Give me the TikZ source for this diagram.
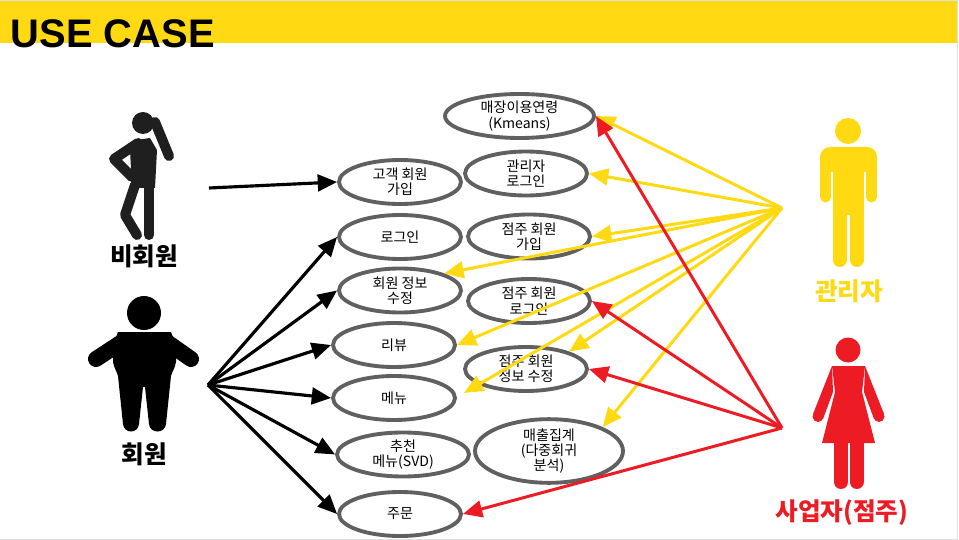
\documentclass[tikz,border=0pt]{standalone}
\usepackage{fontspec}
\setmainfont{Noto Sans CJK KR}
\newfontfamily\titlefont{Liberation Sans}
\usetikzlibrary{shapes.geometric,arrows.meta}
\definecolor{baryellow}{RGB}{255,217,17}
\definecolor{ownerred}{RGB}{237,28,36}
\definecolor{rimgray}{RGB}{96,96,96}
\tikzset{
  usecase/.style={draw=rimgray,line width=2.2pt,fill=white,ellipse,inner sep=0pt,
    minimum width=2.44cm,minimum height=.88cm,align=center,
    font=\fontsize{8}{8.7}\selectfont},
  actorname/.style={font=\fontsize{14}{16}\selectfont\bfseries},
  blackline/.style={draw=black,line width=1.8pt,-{Triangle[length=11pt,width=9.5pt]}},
  yellowline/.style={draw=baryellow,line width=1.7pt,-{Triangle[length=11pt,width=9.5pt]}},
  redline/.style={draw=ownerred,line width=1.7pt,-{Triangle[length=11pt,width=9.5pt]}},
}
\begin{document}
\begin{tikzpicture}[x=.02cm,y=-.02cm]
      \useasboundingbox (0,0) rectangle (959,540);
      % header
      \fill[gray!25] (0,0) rectangle (959,1);
      \fill[gray!25] (956.5,0) rectangle (958,540);
      \fill[gray!25] (0,538.5) rectangle (958,540);
      \fill[baryellow] (0,1) rectangle (957,43);
      \node[anchor=west,inner sep=0pt,font=\titlefont\fontsize{22.7}{26}\selectfont\bfseries] at (10.5,34) (title) {USE CASE};
      % guest
      \begin{scope}[fill=black!88,draw=black!88,line cap=round,line join=round]
        \fill (143,123) circle (11);
        \fill (137,140) -- (150,138) -- (157,150) -- (155,188) -- (132,188) -- (130,150) -- cycle;
        \draw[line width=.2cm] (155,122) -- (169,156);
        \draw[line width=.2cm] (138,143) -- (114,159) -- (132,177);
        \draw[line width=.2cm] (149,185) -- (149,235);
        \draw[line width=.2cm] (135,185) -- (125,215) -- (137,235);
      \end{scope}
      % member
      \fill (144,313) circle (17);
      \fill (118,332) -- (171,332) -- (176,345) -- (176,362) .. controls (175,368) and (172,372) .. (171,376)
        -- (166,424) .. controls (165,434) and (150,434) .. (149,424) -- (145,387) -- (143,387) -- (139,424)
        .. controls (138,434) and (124,434) .. (123,424) -- (118,376) .. controls (117,372) and (114,368) .. (113,362)
        -- (113,345) -- cycle;
      \draw[line width=.32cm,line cap=round] (125,340) -- (96,359);
      \draw[line width=.32cm,line cap=round] (164,340) -- (191,359);
      % admin
      \fill[baryellow] (848,131) circle (13);
      \fill[baryellow,rounded corners=.2cm] (820,147) rectangle (877,172);
      \fill[baryellow] (832.5,150) rectangle (863.5,215);
      \draw[baryellow,line width=.22cm,line cap=round] (825.5,160) -- (825.5,197);
      \draw[baryellow,line width=.22cm,line cap=round] (871.5,160) -- (871.5,197);
      \draw[baryellow,line width=.28cm,line cap=round] (839.5,205) -- (839.5,260);
      \draw[baryellow,line width=.28cm,line cap=round] (856.5,205) -- (856.5,260);
      % owner
      \fill[ownerred] (848,350) circle (12.5);
      \fill[ownerred] (832,366) -- (865,366) -- (862,392) -- (875,443) -- (822,443) -- (835,392) -- cycle;
      \fill[ownerred] (832,366) -- (813,414) -- (823,419) -- (833,392) -- cycle;
      \fill[ownerred] (865,366) -- (884,414) -- (874,419) -- (864,392) -- cycle;
      \fill[ownerred] (818,416.5) circle (5.5);
      \fill[ownerred] (879,416.5) circle (5.5);
      \draw[ownerred,line width=.28cm,line cap=round] (841,440) -- (841,482);
      \draw[ownerred,line width=.28cm,line cap=round] (856.5,440) -- (856.5,482);
      % names
      \node[actorname] at (144,256) (guestname) {비회원};
      \node[actorname] at (144,454) (membername) {회원};
      \node[actorname,text=baryellow] at (849,291) (adminname) {관리자};
      \node[actorname,text=ownerred] at (842,513) (ownername) {사업자(점주)};
      % use cases
      \node[usecase,minimum width=2.98cm] at (519.5,116) (age) {매장이용연령\\(Kmeans)};
      \node[usecase] at (526,173.5) (adminlogin) {관리자\\로그인};
      \node[usecase] at (400,182) (join) {고객 회원\\가입};
      \node[usecase] at (400,237) (login) {로그인};
      \node[usecase] at (529,236.5) (ownerjoin) {점주 회원\\가입};
      \node[usecase] at (400,290.5) (info) {회원 정보\\수정};
      \node[usecase] at (529,301) (ownerlogin) {점주 회원\\로그인};
      \node[usecase] at (394,345) (review) {리뷰};
      \node[usecase] at (394,398) (menu) {메뉴};
      \node[usecase] at (526,369) (ownerinfo) {점주 회원\\정보 수정};
      \node[usecase,minimum width=2.64cm] at (403,454.5) (svd) {추천\\메뉴(SVD)};
      \node[usecase,minimum width=2.96cm,minimum height=1.24cm] at (549,451) (sales) {매출집계\\(다중회귀\\분석)};
      \node[usecase] at (400,514) (order) {주문};
      % connector ends
      \coordinate (G) at (209,188);
      \coordinate (M) at (208,385);
      \coordinate (A) at (782,208);
      \coordinate (O) at (782,428);
      \coordinate (menutip) at (464,393);
      \draw[blackline] (G) -- (join.west);
      \draw[blackline] (M) -- (login.west);
      \draw[blackline] (M) -- (info.west);
      \draw[blackline] (M) -- (review.west);
      \draw[blackline] (M) -- (menu.west);
      \draw[blackline] (M) -- (svd.west);
      \draw[blackline] (M) -- (order.west);
      \draw[yellowline] (A) -- (age.east);
      \draw[yellowline] (A) -- (adminlogin.east);
      \draw[yellowline] (A) -- (ownerjoin.east);
      \draw[yellowline] (A) -- (info.21);
      \draw[yellowline] (A) -- (review.east);
      \draw[yellowline] (A) -- (menutip);
      \draw[yellowline] (A) -- (ownerinfo.22);
      \draw[yellowline] (A) -- (sales.24);
      \draw[redline] (O) -- (age.east);
      \draw[redline] (O) -- (ownerlogin.east);
      \draw[redline] (O) -- (ownerinfo.east);
      \draw[redline] (O) -- (order.east);
    \end{tikzpicture}
\end{document}
